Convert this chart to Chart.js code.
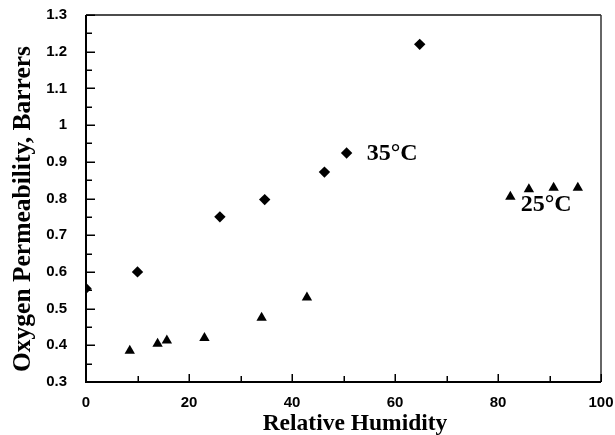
<!DOCTYPE html>
<html><head><meta charset="utf-8">
<script src="https://cdn.jsdelivr.net/npm/chart.js@4.4.1/dist/chart.umd.min.js"></script>
<style>html,body{margin:0;padding:0;background:#fff}#wrap{width:615px;height:435px}</style>
</head><body><div id="wrap"><canvas id="c" width="615" height="435"></canvas></div>
<script>
// Data
const rh35 = [0, 10, 26, 34.7, 46.3, 50.6, 64.8];
const perm35 = [0.555, 0.6, 0.75, 0.797, 0.872, 0.924, 1.22];
const rh25 = [8.5, 13.9, 15.7, 23, 34.1, 42.9, 82.4, 86, 90.8, 95.5];
const perm25 = [0.385, 0.404, 0.413, 0.42, 0.475, 0.53, 0.805, 0.825, 0.829, 0.829];
const xTickValues = [0, 20, 40, 60, 80, 100];
const xTickLabels = ['0', '20', '40', '60', '80', '100'];
const yTickValues = [0.3, 0.4, 0.5, 0.6, 0.7, 0.8, 0.9, 1.0, 1.1, 1.2, 1.3];
const yTickLabels = ['0.3', '0.4', '0.5', '0.6', '0.7', '0.8', '0.9', '1', '1.1', '1.2', '1.3'];
const xMinorTicks = [10, 30, 50, 70, 90];
const yMinorTicks = [0.35, 0.45, 0.55, 0.65, 0.75, 0.85, 0.95, 1.05, 1.15, 1.25];
const seriesLabels = ['35°C', '25°C'];
const labelAnchors = [[54.5, 0.923], [84.4, 0.783]];
const xTitle = 'Relative Humidity';
const yTitle = 'Oxygen Permeability, Barrers';

const pts = (xs, ys) => xs.map((x, i) => ({x: x, y: ys[i]}));
const SERIF = '"Liberation Serif", "Times New Roman", serif';

const framePlugin = {
  id: 'frame',
  afterDatasetsDraw(chart) {
    const ctx = chart.ctx, a = chart.chartArea, x = chart.scales.x, y = chart.scales.y;
    ctx.save();
    ctx.strokeStyle = '#111';
    ctx.lineWidth = 1.5;
    ctx.beginPath();
    ctx.moveTo(a.left, a.top); ctx.lineTo(a.right, a.top);
    ctx.stroke();
    ctx.strokeStyle = '#333';
    ctx.beginPath();
    ctx.moveTo(a.right, a.top); ctx.lineTo(a.right, a.bottom);
    ctx.stroke();
    ctx.strokeStyle = '#000';
    ctx.lineWidth = 2;
    ctx.beginPath();
    ctx.moveTo(a.left, a.top); ctx.lineTo(a.left, a.bottom); ctx.lineTo(a.right, a.bottom);
    ctx.stroke();
    ctx.lineWidth = 1.5;
    ctx.beginPath();
    xTickValues.forEach(v => { const p = Math.round(x.getPixelForValue(v)) + 0.25; ctx.moveTo(p, a.bottom); ctx.lineTo(p, a.bottom - 8); });
    xMinorTicks.forEach(v => { const p = Math.round(x.getPixelForValue(v)) + 0.25; ctx.moveTo(p, a.bottom); ctx.lineTo(p, a.bottom - 6); });
    yTickValues.forEach(v => { const p = Math.round(y.getPixelForValue(v)) + 0.25; ctx.moveTo(a.left, p); ctx.lineTo(a.left + 9, p); });
    yMinorTicks.forEach(v => { const p = Math.round(y.getPixelForValue(v)) + 0.25; ctx.moveTo(a.left, p); ctx.lineTo(a.left + 6, p); });
    ctx.stroke();
    ctx.fillStyle = '#000';
    ctx.font = 'bold 24px ' + SERIF;
    ctx.textAlign = 'left';
    ctx.textBaseline = 'middle';
    seriesLabels.forEach((s, i) => {
      ctx.fillText(s, x.getPixelForValue(labelAnchors[i][0]), y.getPixelForValue(labelAnchors[i][1]));
    });
    ctx.textAlign = 'center';
    ctx.font = 'bold 23.5px ' + SERIF;
    ctx.fillText(xTitle, 355, 424);
    ctx.translate(23, 209);
    ctx.rotate(-Math.PI / 2);
    ctx.font = 'bold 25.5px ' + SERIF;
    ctx.fillText(yTitle, 0, 0);
    ctx.restore();
  }
};

new Chart(document.getElementById('c'), {
  type: 'scatter',
  data: {
    datasets: [
      {label: seriesLabels[0], data: pts(rh35, perm35), pointStyle: 'rectRot', pointRadius: 5.7,
       backgroundColor: '#000', borderColor: '#000', borderWidth: 0},
      {label: seriesLabels[1], data: pts(rh25, perm25), pointStyle: 'triangle', pointRadius: 6,
       backgroundColor: '#000', borderColor: '#000', borderWidth: 0}
    ]
  },
  options: {
    responsive: false,
    animation: false,
    devicePixelRatio: 1,
    layout: {padding: {top: 15, right: 14, left: 0, bottom: 0}},
    plugins: {legend: {display: false}, tooltip: {enabled: false}},
    scales: {
      x: {
        type: 'linear', min: 0, max: 100,
        afterFit: s => { s.height = 53; s.paddingLeft = 0; s.paddingRight = 0; },
        afterBuildTicks: s => { s.ticks = xTickValues.map(v => ({value: v})); },
        grid: {display: false, drawTicks: false},
        border: {display: false},
        ticks: {padding: 12, color: '#000', maxRotation: 0, autoSkip: false,
          font: {family: '"Liberation Sans", Arial, sans-serif', size: 15, weight: 'bold'},
          callback: (v, i) => xTickLabels[i]},
        title: {display: false}
      },
      y: {
        type: 'linear', min: 0.3, max: 1.3,
        afterFit: s => { s.width = 86; s.paddingTop = 0; s.paddingBottom = 0; },
        afterBuildTicks: s => { s.ticks = yTickValues.map(v => ({value: v})); },
        grid: {display: false, drawTicks: false},
        border: {display: false},
        ticks: {padding: 19, color: '#000', autoSkip: false,
          font: {family: '"Liberation Sans", Arial, sans-serif', size: 15, weight: 'bold'},
          callback: (v, i) => yTickLabels[i]},
        title: {display: false}
      }
    }
  },
  plugins: [framePlugin]
});
</script></body></html>
